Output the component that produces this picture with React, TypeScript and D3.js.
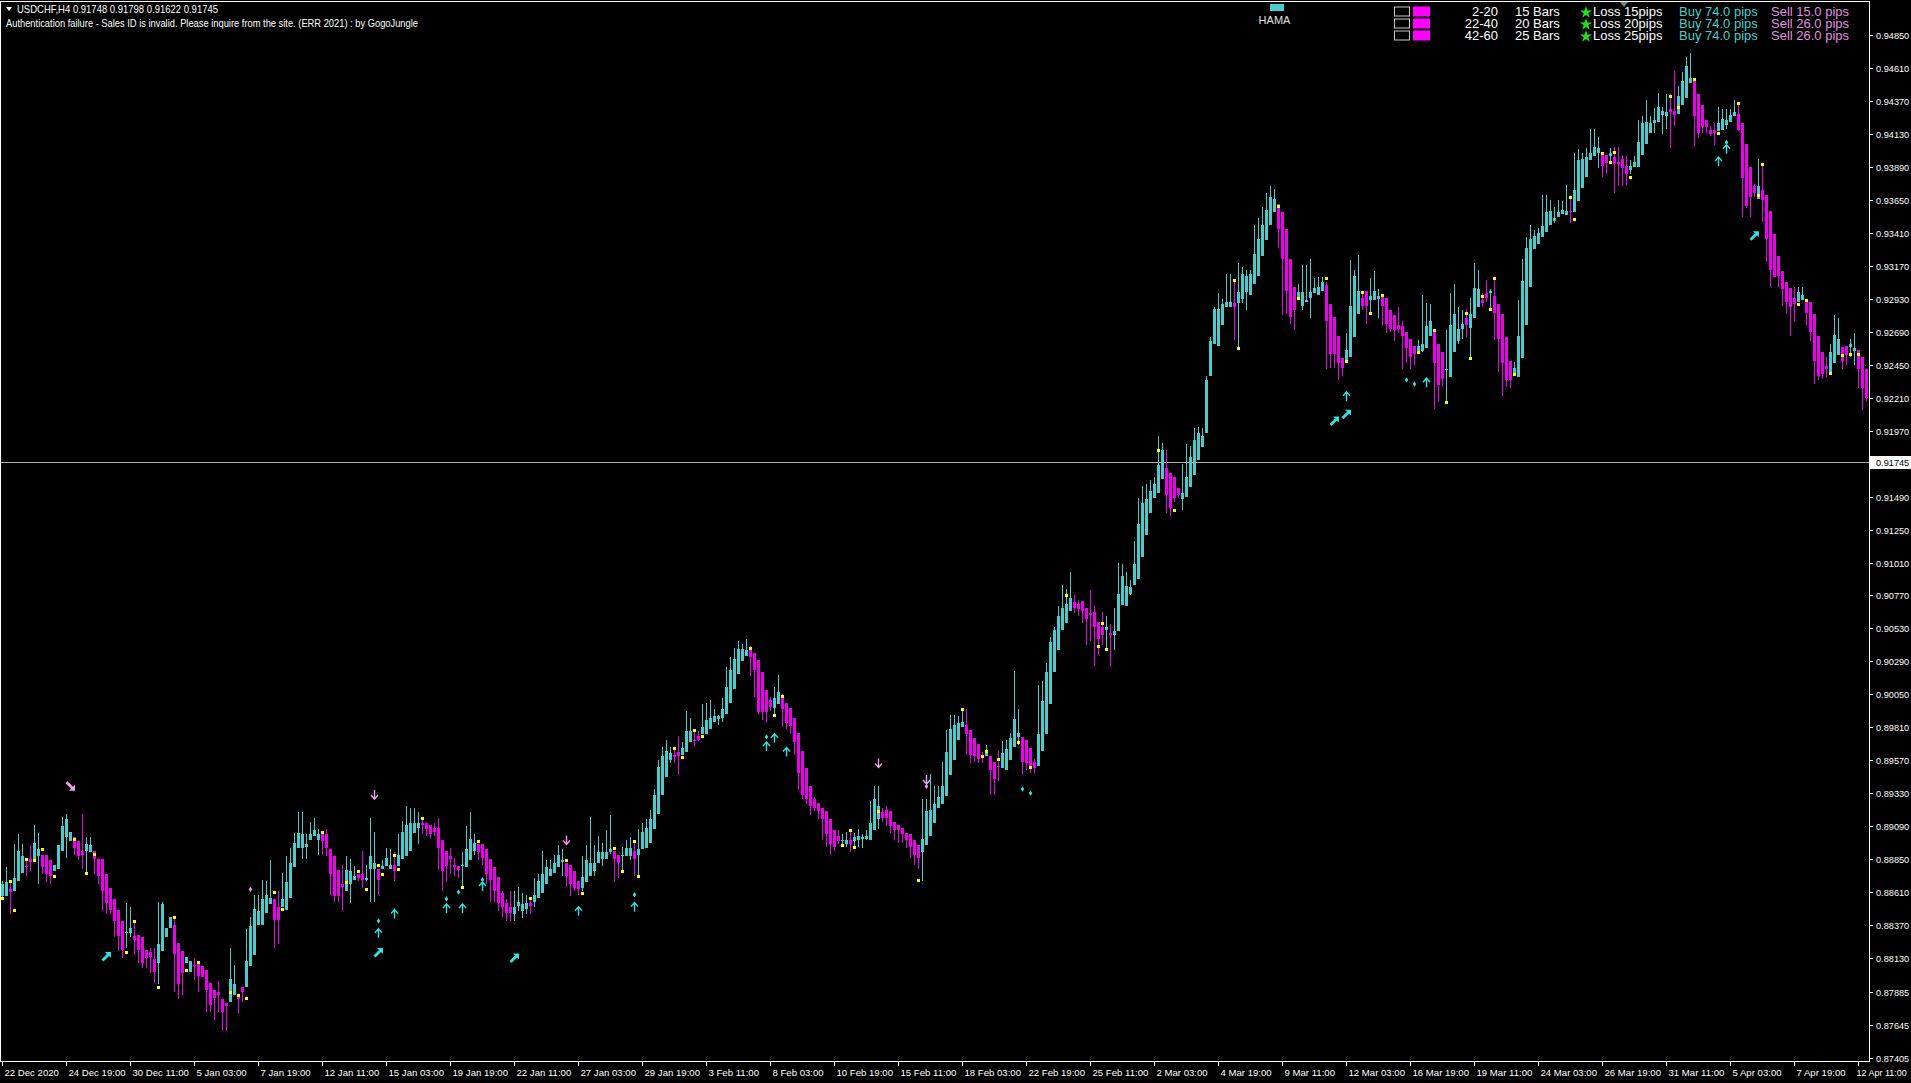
import React from "react";
import * as d3 from "d3";

// HAMA candle values in 1e-4 price units (pips), one per H4 bar
const OPEN_PIPS = [
8858,8858,8863,8862,8869,8875,8880,8885,8885,8887,
8888,8888,8884,8876,8878,8891,8901,8898,8901,8898,
8891,8891,8890,8891,8885,8885,8874,8864,8856,8848,
8840,8831,8831,8829,8830,8828,8819,8817,8812,8809,
8818,8828,8835,8837,8824,8818,8809,8803,8808,8809,
8807,8804,8795,8790,8788,8783,8780,8781,8786,8786,
8792,8792,8807,8815,8837,8837,8846,8852,8856,8850,
8850,8848,8857,8879,8893,8893,8894,8899,8902,8899,
8903,8903,8892,8887,8877,8867,8862,8867,8870,8874,
8874,8870,8878,8878,8878,8878,8880,8878,8881,8880,
8885,8887,8891,8904,8908,8911,8911,8910,8908,8908,
8899,8891,8887,8881,8880,8880,8879,8884,8891,8896,
8896,8892,8885,8879,8872,8860,8853,8850,8845,8851,
8847,8849,8853,8854,8857,8860,8867,8873,8875,8879,
8883,8882,8881,8876,8869,8864,8868,8873,8876,8882,
8885,8885,8890,8891,8888,8887,8887,8887,8891,8888,
8892,8893,8897,8907,8918,8932,8945,8957,8961,8963,
8961,8963,8970,8972,8975,8976,8976,8980,8985,8987,
8988,8991,8999,9009,9020,9029,9033,9037,9035,9030,
9021,9008,9001,8995,8998,9002,8999,8995,8988,8977,
8964,8951,8938,8929,8926,8922,8920,8914,8906,8902,
8898,8896,8899,8898,8899,8900,8900,8899,8906,8914,
8919,8921,8920,8912,8910,8908,8904,8903,8899,8895,
8890,8895,8902,8911,8922,8925,8931,8946,8957,8972,
8981,8983,8979,8973,8969,8961,8960,8960,8956,8953,
8951,8950,8957,8967,8974,8974,8972,8966,8956,8953,
8964,8976,8998,9021,9037,9052,9057,9066,9072,9071,
9073,9068,9064,9065,9058,9054,9052,9050,9048,9051,
9070,9069,9078,9085,9089,9105,9121,9137,9148,9152,
9162,9170,9166,9163,9155,9147,9149,9156,9165,9176,
9185,9195,9237,9260,9259,9274,9287,9287,9290,9290,
9293,9298,9296,9304,9310,9324,9336,9347,9356,9362,
9356,9344,9322,9302,9292,9288,9291,9294,9297,9296,
9299,9303,9289,9280,9266,9250,9248,9251,9265,9282,
9294,9299,9292,9292,9293,9295,9294,9285,9281,9274,
9273,9269,9264,9259,9254,9255,9257,9266,9270,9260,
9254,9241,9236,9254,9262,9271,9279,9272,9279,9287,
9292,9297,9297,9295,9289,9282,9265,9248,9238,9236,
9250,9274,9302,9329,9333,9338,9342,9347,9350,9353,
9355,9354,9357,9356,9364,9374,9382,9394,9397,9399,
9400,9398,9397,9396,9393,9395,9390,9387,9389,9389,
9398,9406,9414,9421,9422,9427,9426,9431,9430,9428,
9434,9439,9450,9453,9442,9434,9423,9416,9416,9415,
9416,9420,9422,9426,9428,9421,9406,9389,9375,9366,
9372,9369,9357,9340,9324,9313,9305,9301,9294,9291,
9292,9291,9291,9282,9266,9254,9244,9240,9246,9252,
9258,9259,9258,9255,9256,9251,9242];

const CLOSE_PIPS = [
8867,8868,8861,8871,8891,8887,8879,8883,8897,8892,
8879,8874,8873,8881,8895,8909,8914,8905,8893,8887,
8888,8896,8895,8885,8873,8862,8853,8848,8840,8829,
8819,8832,8835,8826,8819,8809,8813,8814,8803,8823,
8852,8835,8843,8816,8794,8802,8814,8811,8807,8800,
8799,8790,8779,8784,8786,8774,8778,8798,8794,8783,
8788,8811,8836,8849,8847,8856,8859,8857,8841,8841,
8856,8868,8882,8897,8904,8903,8896,8903,8906,8903,
8898,8893,8874,8858,8858,8865,8877,8876,8873,8871,
8870,8871,8887,8882,8870,8880,8886,8881,8876,8888,
8905,8910,8911,8911,8911,8910,8907,8903,8905,8893,
8876,8880,8885,8879,8877,8881,8892,8900,8897,8890,
8886,8874,8870,8862,8853,8850,8846,8846,8850,8854,
8852,8853,8851,8859,8869,8874,8879,8878,8882,8888,
8884,8873,8867,8864,8863,8872,8884,8882,8882,8890,
8890,8890,8892,8885,8882,8888,8893,8893,8885,8892,
8905,8908,8914,8932,8952,8960,8964,8962,8959,8960,
8966,8978,8978,8971,8972,8981,8986,8988,8989,8989,
8994,9010,9023,9031,9038,9038,9037,9032,9023,8992,
8992,8992,8996,9002,9007,8994,8984,8982,8970,8948,
8932,8929,8924,8922,8920,8914,8903,8896,8894,8898,
8899,8899,8896,8901,8902,8901,8902,8911,8929,8924,
8915,8915,8909,8906,8906,8903,8899,8894,8888,8886,
8900,8920,8921,8925,8930,8938,8963,8980,8983,8984,
8985,8976,8961,8960,8958,8960,8963,8950,8943,8952,
8962,8965,8973,8987,8977,8956,8955,8953,8951,8976,
9000,9021,9043,9052,9062,9068,9071,9075,9068,9067,
9066,9060,9063,9054,9045,9048,9054,9048,9051,9078,
9091,9084,9083,9100,9129,9144,9147,9153,9158,9172,
9183,9150,9141,9148,9150,9152,9163,9178,9190,9195,
9193,9234,9262,9286,9286,9289,9291,9291,9287,9298,
9311,9310,9311,9326,9337,9347,9358,9367,9366,9344,
9322,9299,9280,9285,9298,9298,9292,9298,9301,9302,
9305,9277,9253,9253,9246,9243,9256,9288,9310,9299,
9288,9288,9295,9299,9295,9288,9275,9271,9270,9271,
9266,9257,9251,9253,9259,9260,9273,9277,9246,9230,
9235,9242,9274,9282,9271,9275,9274,9282,9301,9300,
9290,9294,9299,9283,9264,9246,9234,9234,9243,9266,
9306,9330,9337,9339,9341,9346,9356,9357,9352,9356,
9358,9357,9356,9372,9394,9395,9396,9399,9404,9403,
9390,9392,9399,9391,9391,9388,9384,9390,9393,9407,
9421,9422,9421,9423,9433,9430,9429,9429,9427,9441,
9452,9463,9454,9426,9414,9418,9418,9413,9414,9421,
9424,9423,9427,9429,9416,9381,9361,9367,9370,9375,
9365,9337,9314,9309,9310,9300,9291,9287,9289,9298,
9296,9283,9269,9248,9237,9238,9242,9254,9267,9264,
9248,9252,9260,9257,9242,9228,9221];

const HIGH_PIPS = [
8869,8879,8869,8896,8903,8896,8886,8895,8910,8904,
8888,8888,8884,8881,8895,8916,8918,8905,8901,8898,
8918,8901,8901,8891,8885,8885,8874,8864,8856,8848,
8840,8853,8850,8840,8830,8828,8819,8820,8820,8854,
8854,8835,8843,8842,8824,8818,8814,8811,8813,8809,
8807,8804,8795,8790,8796,8783,8780,8820,8808,8786,
8792,8834,8843,8859,8859,8870,8869,8884,8856,8862,
8875,8887,8893,8904,8919,8919,8903,8912,8915,8907,
8903,8907,8892,8887,8877,8881,8887,8885,8880,8874,
8891,8881,8915,8905,8878,8884,8893,8892,8890,8903,
8913,8924,8922,8922,8919,8915,8911,8910,8911,8915,
8899,8891,8893,8886,8880,8890,8909,8919,8903,8896,
8896,8892,8885,8879,8872,8862,8856,8862,8862,8865,
8860,8859,8857,8871,8874,8891,8884,8884,8888,8895,
8892,8882,8881,8876,8869,8887,8895,8916,8895,8902,
8897,8906,8917,8891,8888,8894,8899,8901,8898,8907,
8911,8914,8921,8936,8957,8967,8972,8967,8966,8975,
8970,8993,8988,8978,8978,8998,8999,9001,8994,8990,
9002,9025,9032,9039,9044,9042,9045,9040,9035,9030,
9021,9008,9003,9010,9019,9005,8999,8995,8988,8977,
8964,8951,8938,8930,8926,8922,8920,8914,8906,8906,
8903,8905,8906,8904,8907,8903,8906,8927,8938,8938,
8922,8924,8920,8912,8910,8908,8904,8903,8899,8895,
8929,8929,8947,8938,8938,8956,8979,8990,8990,8989,
8995,8994,8979,8973,8969,8963,8968,8960,8956,8964,
8971,8972,8977,9022,8994,8974,8972,8966,8958,9012,
9015,9028,9047,9054,9069,9085,9082,9094,9077,9074,
9073,9068,9081,9070,9058,9065,9062,9056,9068,9101,
9100,9094,9088,9117,9148,9157,9158,9161,9163,9193,
9188,9183,9166,9163,9155,9173,9187,9186,9199,9200,
9199,9237,9265,9287,9297,9293,9311,9311,9307,9319,
9316,9314,9314,9347,9352,9360,9370,9375,9373,9362,
9356,9344,9322,9302,9304,9318,9318,9322,9308,9309,
9309,9305,9289,9280,9266,9250,9268,9321,9314,9325,
9298,9299,9308,9313,9300,9295,9294,9285,9281,9287,
9277,9269,9264,9259,9263,9296,9290,9289,9270,9260,
9254,9270,9297,9304,9287,9285,9286,9294,9319,9314,
9297,9307,9300,9308,9289,9282,9265,9248,9247,9292,
9322,9338,9347,9343,9345,9369,9369,9365,9360,9365,
9364,9376,9367,9399,9402,9399,9403,9417,9417,9411,
9400,9398,9403,9404,9404,9398,9397,9394,9397,9423,
9426,9438,9426,9432,9443,9433,9442,9442,9459,9448,
9458,9469,9472,9453,9442,9434,9423,9419,9421,9433,
9431,9431,9431,9438,9435,9421,9406,9389,9377,9395,
9392,9369,9357,9340,9324,9313,9305,9301,9302,9302,
9302,9291,9291,9282,9266,9254,9251,9260,9281,9279,
9258,9259,9264,9268,9256,9251,9242];

const LOW_PIPS = [
8857,8858,8845,8862,8869,8875,8873,8876,8885,8867,
8874,8868,8867,8876,8878,8891,8886,8898,8888,8884,
8878,8875,8890,8874,8867,8847,8845,8845,8828,8818,
8813,8820,8828,8815,8809,8806,8806,8802,8795,8794,
8818,8828,8835,8788,8783,8786,8809,8803,8797,8788,
8799,8774,8774,8768,8774,8760,8760,8781,8786,8772,
8781,8792,8807,8815,8837,8837,8846,8852,8820,8823,
8850,8848,8857,8879,8893,8885,8885,8899,8902,8888,
8888,8887,8859,8854,8854,8847,8862,8853,8870,8869,
8864,8869,8854,8854,8859,8878,8880,8878,8869,8880,
8885,8887,8891,8904,8896,8903,8902,8900,8902,8877,
8862,8868,8874,8873,8871,8865,8879,8884,8888,8884,
8881,8867,8854,8854,8847,8843,8840,8840,8840,8847,
8842,8845,8845,8850,8857,8860,8867,8873,8875,8879,
8873,8865,8858,8862,8859,8862,8868,8873,8873,8882,
8880,8885,8889,8868,8871,8876,8887,8884,8873,8873,
8892,8893,8897,8907,8918,8932,8945,8955,8955,8946,
8961,8963,8970,8967,8971,8976,8976,8980,8985,8983,
8985,8991,8999,9009,9020,9029,9033,9018,9003,8991,
8986,8984,8993,8989,8998,8981,8980,8976,8961,8935,
8929,8925,8917,8920,8914,8899,8894,8888,8891,8896,
8894,8894,8890,8893,8894,8893,8899,8899,8906,8907,
8912,8909,8904,8899,8897,8897,8893,8886,8881,8878,
8869,8895,8902,8911,8922,8925,8931,8946,8957,8972,
8981,8961,8955,8956,8955,8955,8960,8932,8932,8942,
8951,8950,8957,8967,8968,8946,8950,8948,8948,8953,
8964,8976,8998,9021,9037,9052,9057,9066,9064,9062,
9057,9041,9044,9026,9034,9041,9039,9025,9037,9051,
9070,9069,9077,9085,9089,9105,9121,9137,9148,9152,
9162,9137,9135,9145,9148,9139,9149,9156,9165,9176,
9185,9195,9237,9260,9259,9274,9287,9287,9263,9257,
9290,9285,9296,9304,9310,9324,9336,9347,9356,9330,
9281,9282,9275,9270,9292,9285,9291,9279,9297,9296,
9299,9242,9243,9243,9234,9237,9248,9251,9265,9282,
9285,9275,9283,9292,9279,9273,9268,9269,9262,9268,
9242,9246,9242,9245,9254,9254,9257,9266,9213,9218,
9229,9218,9236,9254,9260,9264,9265,9251,9279,9287,
9287,9291,9286,9263,9240,9222,9229,9228,9237,9236,
9250,9274,9302,9329,9333,9338,9342,9347,9348,9353,
9355,9354,9348,9356,9364,9374,9382,9394,9397,9388,
9382,9384,9393,9370,9375,9375,9376,9384,9389,9389,
9398,9406,9414,9414,9422,9413,9417,9403,9419,9428,
9434,9439,9450,9404,9410,9414,9414,9412,9405,9415,
9416,9417,9422,9426,9415,9353,9359,9353,9367,9366,
9349,9320,9302,9309,9302,9288,9282,9266,9277,9291,
9292,9274,9262,9231,9234,9235,9236,9240,9246,9252,
9242,9245,9251,9245,9228,9212,9219];

// signal markers: [bar index, price in pips]
const YELLOW_DOTS = [[0,8857],[2,8869],[3,8848],[6,8885],[8,8884],[10,8892],[13,8873],[18,8900],[21,8875],[23,8889],[31,8817],[33,8840],[39,8792],[43,8843],[46,8804],[49,8810],[57,8788],[59,8786],[61,8784],[68,8861],[70,8849],[80,8905],[86,8868],[89,8876],[91,8863],[94,8881],[95,8874],[98,8888],[99,8878],[105,8915],[115,8865],[119,8898],[132,8857],[141,8884],[145,8860],[153,8893],[155,8876],[158,8898],[159,8873],[168,8966],[170,8959],[173,8979],[175,8975],[187,9039],[193,8990],[195,9004],[210,8895],[212,8906],[213,8894],[219,8920],[229,8870],[240,8994],[245,8960],[246,8964],[249,8958],[254,8970],[257,8952],[266,9077],[274,9040],[275,9057],[276,9038],[289,9183],[293,9139],[308,9307],[309,9257],[319,9361],[324,9294],[331,9308],[336,9248],[340,9298],[342,9283],[345,9296],[354,9254],[358,9270],[361,9218],[366,9283],[367,9250],[370,9295],[372,9286],[373,9308],[378,9238],[392,9367],[393,9351],[400,9399],[402,9393],[403,9400],[407,9382],[417,9441],[419,9433],[423,9453],[429,9414],[434,9436],[439,9369],[440,9391],[449,9289],[451,9292],[457,9239],[460,9252],[462,9253],[464,9253]];
const CYAN_UP = [[94,8831],[98,8845],[111,8849],[115,8849],[120,8865],[144,8847],[158,8850],[191,8967],[193,8973],[196,8963],[336,9222],[356,9232],[429,9393],[431,9402]];
const CYAN_DIAMOND = [[94,8840],[111,8856],[114,8861],[120,8870],[158,8859],[191,8974],[255,8936],[257,8933],[351,9234],[353,9231],[431,9407]];
const CYAN_DIAG = [[26,8814],[94,8817],[128,8813],[333,9204],[336,9209],[438,9339]];
const PINK_DOWN = [[93,8932],[141,8899],[219,8955],[231,8943]];
const PINK_DIAG = [[17,8938]];
const PINK_DIAMOND = [[62,8863],[231,8938]];

const Y_TICKS = [0.9485,0.9461,0.9437,0.9413,0.9389,0.9365,0.9341,0.9317,0.9293,0.9269,0.9245,0.9221,0.9197,0.9149,0.9125,0.9101,0.9077,0.9053,0.9029,0.9005,0.8981,0.8957,0.8933,0.8909,0.8885,0.8861,0.8837,0.8813,0.87885,0.87645,0.87405];
const X_LABELS = ["22 Dec 2020","24 Dec 19:00","30 Dec 11:00","5 Jan 03:00","7 Jan 19:00","12 Jan 11:00","15 Jan 03:00","19 Jan 19:00","22 Jan 11:00","27 Jan 03:00","29 Jan 19:00","3 Feb 11:00","8 Feb 03:00","10 Feb 19:00","15 Feb 11:00","18 Feb 03:00","22 Feb 19:00","25 Feb 11:00","2 Mar 03:00","4 Mar 19:00","9 Mar 11:00","12 Mar 03:00","16 Mar 19:00","19 Mar 11:00","24 Mar 03:00","26 Mar 19:00","31 Mar 11:00","5 Apr 03:00","7 Apr 19:00","12 Apr 11:00"];
const X_LABEL_STEP = 16;
const CURRENT_PRICE = 0.91745;
const HEADER_LINE1 = "USDCHF,H4  0.91748 0.91798 0.91622 0.91745";
const HEADER_LINE2 = "Authentication failure - Sales ID is invalid. Please inquire from the site. (ERR 2021) : by GogoJungle";

const LEG_RANGE = ["2-20", "22-40", "42-60"];
const LEG_BARS = ["15 Bars", "20 Bars", "25 Bars"];
const LEG_LOSS = ["Loss 15pips", "Loss 20pips", "Loss 25pips"];
const LEG_BUY = ["Buy 74.0 pips", "Buy 74.0 pips", "Buy 74.0 pips"];
const LEG_SELL = ["Sell 15.0 pips", "Sell 26.0 pips", "Sell 26.0 pips"];

const TEAL = "#48cccc";
const MAGENTA = "#f000f0";
const CYAN = "#30e4e4";
const PINK = "#eea0ee";
const FONT = "'Liberation Sans', Arial, sans-serif";

export default function App() {
  const open = OPEN_PIPS.map(v => v / 10000);
  const close = CLOSE_PIPS.map(v => v / 10000);
  const high = HIGH_PIPS.map(v => v / 10000);
  const low = LOW_PIPS.map(v => v / 10000);
  const N = Math.min(open.length, close.length, high.length, low.length);

  const W = 1911, H = 1083;
  const axisX = 1869, axisY = 1061;
  const x = d3.scaleLinear().domain([0, 466]).range([2, 2 + 4 * 466]);
  const y = d3.scaleLinear().domain([0.87405, 0.9485]).range([1057.5, 35.3]);
  const py = (p: number) => y(p / 10000);

  const candles = d3.range(N).map(i => {
    const up = close[i] >= open[i];
    const cx = Math.round(x(i));
    const yH = Math.round(y(high[i]));
    const yL = Math.round(y(low[i]));
    const yT = Math.round(y(Math.max(open[i], close[i])));
    const yB = Math.round(y(Math.min(open[i], close[i])));
    const col = up ? TEAL : MAGENTA;
    return (
      <g key={i}>
        <rect x={cx} y={yH} width={1} height={Math.max(1, yL - yH)} fill={col} />
        <rect x={cx - 1} y={yT} width={3} height={Math.max(1, yB - yT)} fill={col} />
      </g>
    );
  });

  const upArrow = "M0,-4.5 L0,4.5 M-3.5,-0.5 L0,-4.5 L3.5,-0.5";
  const downArrow = "M0,4.5 L0,-4.5 M-3.5,0.5 L0,4.5 L3.5,0.5";
  const diamond = "M0,-2.6 L1.8,0 L0,2.6 L-1.8,0 Z";

  const rowY = [11.5, 23.5, 35.5];
  const star = d3.symbol().type(d3.symbolStar).size(46)() as string;
  const lastLabel = X_LABELS.length - 1;

  return (
    <svg width={W} height={H} style={{ position: "fixed", left: 0, top: 0, background: "#000", display: "block" }}>
      <rect x={0} y={0} width={W} height={H} fill="#000" />
      {/* current price line */}
      <line x1={0} x2={axisX} y1={Math.round(y(CURRENT_PRICE)) + 0.5} y2={Math.round(y(CURRENT_PRICE)) + 0.5} stroke="#a8b0b8" strokeWidth={1} />
      {candles}
      {YELLOW_DOTS.map(([b, p], i) => (
        <rect key={"yd" + i} x={Math.round(x(b)) - 1} y={Math.round(py(p)) - 1} width={3} height={3} fill="#ffff00" />
      ))}
      {CYAN_UP.map(([b, p], i) => (
        <path key={"cu" + i} d={upArrow} transform={`translate(${x(b) + 0.5},${py(p)})`} stroke={CYAN} strokeWidth={1.4} fill="none" />
      ))}
      {CYAN_DIAMOND.map(([b, p], i) => (
        <path key={"cd" + i} d={diamond} transform={`translate(${x(b) + 0.5},${py(p)})`} fill={CYAN} />
      ))}
      {CYAN_DIAG.map(([b, p], i) => (
        <g key={"cg" + i} transform={`translate(${x(b) + 0.5},${py(p)})`}>
          <line x1={-4} y1={4} x2={2} y2={-2} stroke={CYAN} strokeWidth={2.8} />
          <path d="M-1.5,-4.5 L4.5,-4.5 L4.5,1.5 Z" fill={CYAN} />
        </g>
      ))}
      {PINK_DOWN.map(([b, p], i) => (
        <path key={"pd" + i} d={downArrow} transform={`translate(${x(b) + 0.5},${py(p)})`} stroke={PINK} strokeWidth={1.4} fill="none" />
      ))}
      {PINK_DIAG.map(([b, p], i) => (
        <g key={"pg" + i} transform={`translate(${x(b) + 0.5},${py(p)})`}>
          <line x1={-4} y1={-4} x2={2} y2={2} stroke={PINK} strokeWidth={2.8} />
          <path d="M-1.5,4.5 L4.5,4.5 L4.5,-1.5 Z" fill={PINK} />
        </g>
      ))}
      {PINK_DIAMOND.map(([b, p], i) => (
        <path key={"pm" + i} d={diamond} transform={`translate(${x(b) + 0.5},${py(p)})`} fill={PINK} />
      ))}

      {/* frame */}
      <line x1={0.5} x2={0.5} y1={1} y2={axisY + 1} stroke="#fff" />
      <line x1={0} x2={axisX + 1} y1={1.5} y2={1.5} stroke="#fff" />
      <line x1={axisX + 0.5} x2={axisX + 0.5} y1={1} y2={axisY + 1} stroke="#fff" />
      <line x1={0} x2={axisX + 1} y1={axisY + 0.5} y2={axisY + 0.5} stroke="#fff" />

      {/* y axis */}
      {Y_TICKS.map((v, i) => {
        const ty = Math.round(y(v)) + 0.5;
        return (
          <g key={"yt" + i}>
            <line x1={axisX} x2={axisX + 4} y1={ty} y2={ty} stroke="#fff" />
            <text x={1876} y={ty} dy="0.35em" fill="#fff" fontFamily={FONT} fontSize={9.2}>{v.toFixed(5)}</text>
          </g>
        );
      })}
      {/* current price label */}
      <g>
        <rect x={axisX + 1} y={Math.round(y(CURRENT_PRICE)) - 6} width={W - axisX - 1} height={13} fill="#fff" />
        <text x={1876} y={Math.round(y(CURRENT_PRICE)) + 0.5} dy="0.35em" fill="#000" fontFamily={FONT} fontSize={9.2}>{CURRENT_PRICE.toFixed(5)}</text>
      </g>

      {/* x axis */}
      {X_LABELS.map((s, i) => {
        const tx = Math.round(x(i * X_LABEL_STEP)) + 0.5;
        return (
          <g key={"xt" + i}>
            <line x1={tx} x2={tx} y1={axisY} y2={axisY + 5} stroke="#fff" />
            <text x={i === lastLabel ? tx - 2 : tx + 2} y={1076} fill="#fff" fontFamily={FONT} fontSize={i === lastLabel ? 9 : 9.6}>{s}</text>
          </g>
        );
      })}

      {/* header */}
      <path d="M6,7 L12,7 L9,11 Z" fill="#fff" />
      <text x={17} y={13} fill="#fff" fontFamily={FONT} fontSize={10.5} textLength={201} lengthAdjust="spacingAndGlyphs">{HEADER_LINE1}</text>
      <text x={6} y={26.5} fill="#fff" fontFamily={FONT} fontSize={10.5} textLength={412} lengthAdjust="spacingAndGlyphs">{HEADER_LINE2}</text>

      {/* shift marker */}
      <path d="M1620,2 L1628,2 L1624,7 Z" fill="#808080" />

      {/* HAMA legend */}
      <rect x={1270} y={4} width={14} height={7} fill={TEAL} />
      <text x={1274.5} y={24} textAnchor="middle" fill="#e0e0e0" fontFamily={FONT} fontSize={11}>HAMA</text>

      {LEG_RANGE.map((r, i) => (
        <g key={"lg" + i}>
          <rect x={1394.5} y={rowY[i] - 4.5} width={15} height={9} fill="none" stroke="#c8c8c8" />
          <rect x={1413} y={rowY[i] - 5} width={17} height={10} fill="#ff00ff" />
          <text x={1498} y={rowY[i]} dy="0.36em" textAnchor="end" fill="#fff" fontFamily={FONT} fontSize={13}>{r}</text>
          <text x={1515} y={rowY[i]} dy="0.36em" fill="#fff" fontFamily={FONT} fontSize={13}>{LEG_BARS[i]}</text>
          <path d={star} transform={`translate(1586,${rowY[i] + 1})`} fill="#22dd22" />
          <text x={1593} y={rowY[i]} dy="0.36em" fill="#fff" fontFamily={FONT} fontSize={13}>{LEG_LOSS[i]}</text>
          <text x={1679} y={rowY[i]} dy="0.36em" fill={TEAL} fontFamily={FONT} fontSize={13}>{LEG_BUY[i]}</text>
          <text x={1771} y={rowY[i]} dy="0.36em" fill="#e090e0" fontFamily={FONT} fontSize={13}>{LEG_SELL[i]}</text>
        </g>
      ))}
    </svg>
  );
}
